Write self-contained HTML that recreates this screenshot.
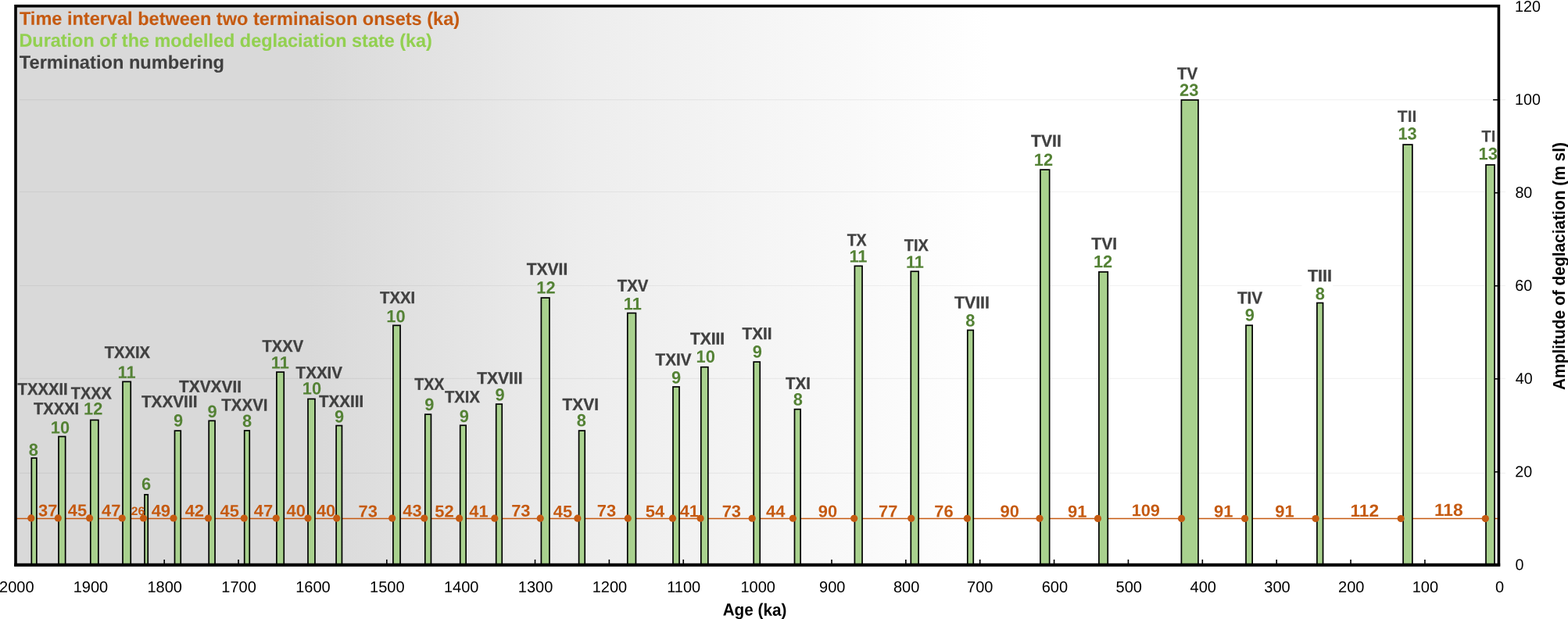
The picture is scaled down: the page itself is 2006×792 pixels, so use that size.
<!DOCTYPE html>
<html lang="en"><head><meta charset="utf-8"><title>Terminations: amplitude of deglaciation vs age</title>
<style>
html,body{margin:0;padding:0;background:#fff;}
body{width:2006px;height:792px;overflow:hidden;}
svg{display:block;}
text{font-family:"Liberation Sans",sans-serif;}
.b{font-weight:bold;}
.nm{fill:#404040;font-size:21.6px;stroke:#404040;stroke-width:0.3px;}
.nu{fill:#548235;font-size:22.1px;font-weight:bold;}
.iv{fill:#c55a11;font-weight:bold;}
.sm{font-size:21px;stroke:none;fill:#484848;}
.ax{fill:#000;font-size:20px;}
.lg{font-weight:bold;font-size:23.8px;stroke-width:0.1px;}
.c1{fill:#c55a11;stroke:#c55a11;}.c2{fill:#92d050;stroke:#92d050;}.c3{fill:#404040;stroke:#404040;}
.ti{font-weight:bold;font-size:22px;fill:#000;}
.bar{fill:#a9d18e;stroke:#000;stroke-width:1.7;}
.dot{fill:#c55a11;}
.tk{stroke:#000;stroke-width:1.6;}
.gl{stroke:#000;stroke-opacity:0.05;stroke-width:1.2;}
</style></head><body>
<svg width="2006" height="792" viewBox="0 0 2006 792">
<defs><linearGradient id="bg" gradientUnits="userSpaceOnUse" x1="20" y1="0" x2="1917.4" y2="0"><stop offset="0.0000" stop-color="#d9d9d9"/><stop offset="0.1966" stop-color="#d9d9d9"/><stop offset="0.3795" stop-color="#ededed"/><stop offset="0.6577" stop-color="#ffffff"/><stop offset="1.0000" stop-color="#ffffff"/></linearGradient></defs>
<rect x="0" y="0" width="2006" height="792" fill="#fff"/>
<rect x="20" y="7.7" width="1897.4" height="715.1" fill="url(#bg)"/>
<line class="gl" x1="25" x2="1926" y1="127.70" y2="127.70"/>
<line class="gl" x1="25" x2="1926" y1="245.50" y2="245.50"/>
<line class="gl" x1="25" x2="1926" y1="365.50" y2="365.50"/>
<line class="gl" x1="25" x2="1926" y1="484.45" y2="484.45"/>
<line class="gl" x1="25" x2="1926" y1="605.40" y2="605.40"/>
<rect x="1665.5" y="363.5" width="39.5" height="4.0" fill="#fff"/>
<line class="tk" x1="1822.90" x2="1822.90" y1="715.9" y2="722"/>
<line class="tk" x1="1728.04" x2="1728.04" y1="715.9" y2="722"/>
<line class="tk" x1="1633.17" x2="1633.17" y1="715.9" y2="722"/>
<line class="tk" x1="1538.31" x2="1538.31" y1="715.9" y2="722"/>
<line class="tk" x1="1443.44" x2="1443.44" y1="715.9" y2="722"/>
<line class="tk" x1="1348.58" x2="1348.58" y1="715.9" y2="722"/>
<line class="tk" x1="1253.71" x2="1253.71" y1="715.9" y2="722"/>
<line class="tk" x1="1158.85" x2="1158.85" y1="715.9" y2="722"/>
<line class="tk" x1="1063.99" x2="1063.99" y1="715.9" y2="722"/>
<line class="tk" x1="969.12" x2="969.12" y1="715.9" y2="722"/>
<line class="tk" x1="874.25" x2="874.25" y1="715.9" y2="722"/>
<line class="tk" x1="779.39" x2="779.39" y1="715.9" y2="722"/>
<line class="tk" x1="684.52" x2="684.52" y1="715.9" y2="722"/>
<line class="tk" x1="589.66" x2="589.66" y1="715.9" y2="722"/>
<line class="tk" x1="494.79" x2="494.79" y1="715.9" y2="722"/>
<line class="tk" x1="399.93" x2="399.93" y1="715.9" y2="722"/>
<line class="tk" x1="305.06" x2="305.06" y1="715.9" y2="722"/>
<line class="tk" x1="210.20" x2="210.20" y1="715.9" y2="722"/>
<line x1="21" x2="1916" y1="663.5" y2="663.5" stroke="#c55a11" stroke-width="1.4"/>
<line class="tk" x1="1910.1" x2="1916" y1="603.78" y2="603.78"/>
<line class="tk" x1="1910.1" x2="1916" y1="484.76" y2="484.76"/>
<line class="tk" x1="1910.1" x2="1916" y1="365.74" y2="365.74"/>
<line class="tk" x1="1910.1" x2="1916" y1="246.72" y2="246.72"/>
<line class="tk" x1="1910.1" x2="1916" y1="127.70" y2="127.70"/>
<rect class="bar" x="40.30" y="586.05" width="6.55" height="136.55"/>
<rect class="bar" x="75.00" y="558.55" width="8.65" height="164.05"/>
<rect class="bar" x="115.80" y="537.45" width="10.05" height="185.15"/>
<rect class="bar" x="157.00" y="488.35" width="10.25" height="234.25"/>
<rect class="bar" x="185.00" y="632.85" width="4.25" height="89.75"/>
<rect class="bar" x="223.50" y="551.15" width="7.75" height="171.45"/>
<rect class="bar" x="267.20" y="538.35" width="7.85" height="184.25"/>
<rect class="bar" x="312.70" y="550.95" width="6.55" height="171.65"/>
<rect class="bar" x="353.90" y="476.05" width="9.35" height="246.55"/>
<rect class="bar" x="394.00" y="510.45" width="8.95" height="212.15"/>
<rect class="bar" x="430.10" y="544.55" width="7.35" height="178.05"/>
<rect class="bar" x="502.90" y="416.35" width="9.15" height="306.25"/>
<rect class="bar" x="543.80" y="530.15" width="7.65" height="192.45"/>
<rect class="bar" x="588.70" y="544.25" width="7.45" height="178.35"/>
<rect class="bar" x="634.70" y="517.05" width="7.55" height="205.55"/>
<rect class="bar" x="692.40" y="381.05" width="10.55" height="341.55"/>
<rect class="bar" x="740.60" y="551.05" width="7.65" height="171.55"/>
<rect class="bar" x="802.80" y="400.55" width="10.65" height="322.05"/>
<rect class="bar" x="861.00" y="494.95" width="8.05" height="227.65"/>
<rect class="bar" x="896.80" y="469.65" width="9.05" height="252.95"/>
<rect class="bar" x="964.20" y="463.05" width="8.05" height="259.55"/>
<rect class="bar" x="1016.50" y="523.65" width="7.65" height="198.95"/>
<rect class="bar" x="1093.40" y="340.35" width="9.65" height="382.25"/>
<rect class="bar" x="1165.30" y="347.25" width="9.85" height="375.35"/>
<rect class="bar" x="1237.80" y="422.45" width="7.45" height="300.15"/>
<rect class="bar" x="1330.90" y="217.15" width="11.75" height="505.45"/>
<rect class="bar" x="1405.90" y="347.95" width="11.35" height="374.65"/>
<rect class="bar" x="1511.40" y="127.95" width="21.55" height="594.65"/>
<rect class="bar" x="1594.00" y="416.25" width="8.15" height="306.35"/>
<rect class="bar" x="1684.90" y="387.55" width="7.65" height="335.05"/>
<rect class="bar" x="1795.10" y="185.05" width="11.75" height="537.55"/>
<rect class="bar" x="1901.00" y="210.95" width="11.05" height="511.65"/>
<rect x="20" y="7.7" width="1897.4" height="715.1" fill="none" stroke="#000" stroke-width="3.6"/>
<line x1="18.2" x2="1919.2" y1="722.8" y2="722.8" stroke="#000" stroke-width="4"/>
<circle class="dot" cx="39.80" cy="662.95" r="4.6"/>
<circle class="dot" cx="74.30" cy="662.96" r="4.6"/>
<circle class="dot" cx="114.60" cy="662.97" r="4.6"/>
<circle class="dot" cx="156.20" cy="662.99" r="4.6"/>
<circle class="dot" cx="183.50" cy="663.00" r="4.6"/>
<circle class="dot" cx="222.00" cy="663.01" r="4.6"/>
<circle class="dot" cx="266.50" cy="663.02" r="4.6"/>
<circle class="dot" cx="312.30" cy="663.04" r="4.6"/>
<circle class="dot" cx="353.30" cy="663.05" r="4.6"/>
<circle class="dot" cx="394.00" cy="663.06" r="4.6"/>
<circle class="dot" cx="430.70" cy="663.08" r="4.6"/>
<circle class="dot" cx="501.70" cy="663.10" r="4.6"/>
<circle class="dot" cx="542.80" cy="663.11" r="4.6"/>
<circle class="dot" cx="587.60" cy="663.13" r="4.6"/>
<circle class="dot" cx="632.80" cy="663.14" r="4.6"/>
<circle class="dot" cx="691.20" cy="663.16" r="4.6"/>
<circle class="dot" cx="738.90" cy="663.18" r="4.6"/>
<circle class="dot" cx="803.30" cy="663.20" r="4.6"/>
<circle class="dot" cx="860.50" cy="663.21" r="4.6"/>
<circle class="dot" cx="896.10" cy="663.23" r="4.6"/>
<circle class="dot" cx="962.20" cy="663.25" r="4.6"/>
<circle class="dot" cx="1014.40" cy="663.26" r="4.6"/>
<circle class="dot" cx="1092.70" cy="663.29" r="4.6"/>
<circle class="dot" cx="1165.70" cy="663.31" r="4.6"/>
<circle class="dot" cx="1237.40" cy="663.34" r="4.6"/>
<circle class="dot" cx="1330.00" cy="663.37" r="4.6"/>
<circle class="dot" cx="1404.50" cy="663.39" r="4.6"/>
<circle class="dot" cx="1511.50" cy="663.42" r="4.6"/>
<circle class="dot" cx="1592.60" cy="663.45" r="4.6"/>
<circle class="dot" cx="1683.10" cy="663.48" r="4.6"/>
<circle class="dot" cx="1792.20" cy="663.52" r="4.6"/>
<circle class="dot" cx="1900.30" cy="663.55" r="4.6"/>
<text class="nu" transform="translate(36.66 582.90) rotate(0.03) scale(0.9900 1)">8</text>
<text class="nm b" transform="translate(22.62 505.05) rotate(0.03) scale(0.9356 1)">TXXXII</text>
<text class="nu" transform="translate(64.72 554.40) rotate(0.03) scale(0.9900 1)">10</text>
<text class="nm b" transform="translate(43.02 530.05) rotate(0.03) scale(0.9326 1)">TXXXI</text>
<text class="nu" transform="translate(107.12 530.40) rotate(0.03) scale(0.9900 1)">12</text>
<text class="nm b" transform="translate(90.72 510.35) rotate(0.03) scale(0.9228 1)">TXXX</text>
<text class="nu" transform="translate(150.62 483.70) rotate(0.03) scale(0.9900 1)">11</text>
<text class="nm b" transform="translate(133.72 457.95) rotate(0.03) scale(0.9352 1)">TXXIX</text>
<text class="nu" transform="translate(181.11 626.70) rotate(0.03) scale(0.9900 1)">6</text>
<text class="nu" transform="translate(221.96 545.40) rotate(0.03) scale(0.9900 1)">9</text>
<text class="nm b" transform="translate(180.91 521.05) rotate(0.03) scale(0.9615 1)">TXXVIII</text>
<text class="nu" transform="translate(265.56 534.00) rotate(0.03) scale(0.9900 1)">9</text>
<text class="nm b" transform="translate(229.01 501.85) rotate(0.03) scale(0.9667 1)">TXVXVII</text>
<text class="nu" transform="translate(310.06 546.00) rotate(0.03) scale(0.9900 1)">8</text>
<text class="nm b" transform="translate(283.32 525.35) rotate(0.03) scale(0.9490 1)">TXXVI</text>
<text class="nu" transform="translate(346.82 471.40) rotate(0.03) scale(0.9900 1)">11</text>
<text class="nm b" transform="translate(335.52 450.05) rotate(0.03) scale(0.9317 1)">TXXV</text>
<text class="nu" transform="translate(386.73 504.50) rotate(0.03) scale(0.9900 1)">10</text>
<text class="nm b" transform="translate(378.61 484.05) rotate(0.03) scale(0.9529 1)">TXXIV</text>
<text class="nu" transform="translate(427.96 540.60) rotate(0.03) scale(0.9900 1)">9</text>
<text class="nm b" transform="translate(408.01 520.75) rotate(0.03) scale(0.9520 1)">TXXIII</text>
<text class="nu" transform="translate(494.23 412.20) rotate(0.03) scale(0.9900 1)">10</text>
<text class="nm b" transform="translate(486.02 387.95) rotate(0.03) scale(0.9395 1)">TXXI</text>
<text class="nu" transform="translate(543.36 525.10) rotate(0.03) scale(0.9900 1)">9</text>
<text class="nm b" transform="translate(530.23 498.85) rotate(0.03) scale(0.9100 1)">TXX</text>
<text class="nu" transform="translate(587.76 540.00) rotate(0.03) scale(0.9900 1)">9</text>
<text class="nm b" transform="translate(569.02 514.95) rotate(0.03) scale(0.9342 1)">TXIX</text>
<text class="nu" transform="translate(633.46 512.50) rotate(0.03) scale(0.9900 1)">9</text>
<text class="nm b" transform="translate(610.21 491.05) rotate(0.03) scale(0.9743 1)">TXVIII</text>
<text class="nu" transform="translate(686.23 375.50) rotate(0.03) scale(0.9900 1)">12</text>
<text class="nm b" transform="translate(673.71 351.45) rotate(0.03) scale(0.9732 1)">TXVII</text>
<text class="nu" transform="translate(737.66 545.30) rotate(0.03) scale(0.9900 1)">8</text>
<text class="nm b" transform="translate(719.61 524.65) rotate(0.03) scale(0.9654 1)">TXVI</text>
<text class="nu" transform="translate(797.72 396.20) rotate(0.03) scale(0.9900 1)">11</text>
<text class="nm b" transform="translate(789.82 372.65) rotate(0.03) scale(0.9417 1)">TXV</text>
<text class="nu" transform="translate(859.06 490.50) rotate(0.03) scale(0.9900 1)">9</text>
<text class="nm b" transform="translate(838.61 467.25) rotate(0.03) scale(0.9555 1)">TXIV</text>
<text class="nu" transform="translate(890.62 463.80) rotate(0.03) scale(0.9900 1)">10</text>
<text class="nm b" transform="translate(883.01 440.45) rotate(0.03) scale(0.9680 1)">TXIII</text>
<text class="nu" transform="translate(962.86 457.60) rotate(0.03) scale(0.9900 1)">9</text>
<text class="nm b" transform="translate(949.51 434.05) rotate(0.03) scale(0.9630 1)">TXII</text>
<text class="nu" transform="translate(1014.66 518.50) rotate(0.03) scale(0.9900 1)">8</text>
<text class="nm b" transform="translate(1004.91 497.65) rotate(0.03) scale(0.9528 1)">TXI</text>
<text class="nu" transform="translate(1086.42 335.60) rotate(0.03) scale(0.9900 1)">11</text>
<text class="nm b" transform="translate(1083.63 314.25) rotate(0.03) scale(0.9067 1)">TX</text>
<text class="nu" transform="translate(1158.92 342.80) rotate(0.03) scale(0.9900 1)">11</text>
<text class="nm b" transform="translate(1156.82 320.95) rotate(0.03) scale(0.9238 1)">TIX</text>
<text class="nu" transform="translate(1235.26 417.50) rotate(0.03) scale(0.9900 1)">8</text>
<text class="nm b" transform="translate(1221.00 394.25) rotate(0.03) scale(0.9863 1)">TVIII</text>
<text class="nu" transform="translate(1322.72 212.10) rotate(0.03) scale(0.9900 1)">12</text>
<text class="nm b" transform="translate(1319.01 187.55) rotate(0.03) scale(0.9788 1)">TVII</text>
<text class="nu" transform="translate(1398.92 342.20) rotate(0.03) scale(0.9900 1)">12</text>
<text class="nm b" transform="translate(1396.31 318.95) rotate(0.03) scale(0.9748 1)">TVI</text>
<text class="nu" transform="translate(1509.07 122.80) rotate(0.03) scale(0.9900 1)">23</text>
<text class="nm b" transform="translate(1506.02 101.35) rotate(0.03) scale(0.9481 1)">TV</text>
<text class="nu" transform="translate(1592.66 410.40) rotate(0.03) scale(0.9900 1)">9</text>
<text class="nm b" transform="translate(1582.91 388.35) rotate(0.03) scale(0.9576 1)">TIV</text>
<text class="nu" transform="translate(1682.66 383.20) rotate(0.03) scale(0.9900 1)">8</text>
<text class="nm b" transform="translate(1672.90 359.95) rotate(0.03) scale(1.0000 1)">TIII</text>
<text class="nu" transform="translate(1788.38 178.60) rotate(0.03) scale(0.9900 1)">13</text>
<text class="nm b sm" transform="translate(1787.80 155.95) rotate(0.03) scale(1.0087 1)">TII</text>
<text class="nu" transform="translate(1891.48 204.20) rotate(0.03) scale(0.9900 1)">13</text>
<text class="nm b sm" transform="translate(1895.31 181.55) rotate(0.03) scale(0.9704 1)">TI</text>
<text class="iv" font-size="21.5" transform="translate(49.01 660.50) rotate(0.03) scale(1.0200 1)">37</text>
<text class="iv" font-size="21.5" transform="translate(86.86 660.20) rotate(0.03) scale(1.0200 1)">45</text>
<text class="iv" font-size="21.5" transform="translate(130.12 660.40) rotate(0.03) scale(1.0200 1)">47</text>
<text class="iv" font-size="15.1" transform="translate(167.66 658.90) rotate(0.03) scale(1.0400 1)">26</text>
<text class="iv" font-size="21.5" transform="translate(193.67 660.70) rotate(0.03) scale(1.0200 1)">49</text>
<text class="iv" font-size="21.5" transform="translate(236.67 660.70) rotate(0.03) scale(1.0200 1)">42</text>
<text class="iv" font-size="21.5" transform="translate(281.56 660.90) rotate(0.03) scale(1.0200 1)">45</text>
<text class="iv" font-size="21.5" transform="translate(324.72 660.70) rotate(0.03) scale(1.0200 1)">47</text>
<text class="iv" font-size="21.5" transform="translate(366.52 660.80) rotate(0.03) scale(1.0200 1)">40</text>
<text class="iv" font-size="21.5" transform="translate(404.92 660.80) rotate(0.03) scale(1.0200 1)">40</text>
<text class="iv" font-size="21.5" transform="translate(458.56 661.60) rotate(0.03) scale(1.0200 1)">73</text>
<text class="iv" font-size="21.5" transform="translate(515.37 660.80) rotate(0.03) scale(1.0200 1)">43</text>
<text class="iv" font-size="21.5" transform="translate(556.31 661.50) rotate(0.03) scale(1.0200 1)">52</text>
<text class="iv" font-size="21.5" transform="translate(600.36 661.60) rotate(0.03) scale(1.0200 1)">41</text>
<text class="iv" font-size="21.5" transform="translate(654.16 660.80) rotate(0.03) scale(1.0200 1)">73</text>
<text class="iv" font-size="21.5" transform="translate(707.76 661.80) rotate(0.03) scale(1.0200 1)">45</text>
<text class="iv" font-size="21.5" transform="translate(763.86 660.80) rotate(0.03) scale(1.0200 1)">73</text>
<text class="iv" font-size="21.5" transform="translate(825.85 661.60) rotate(0.03) scale(1.0200 1)">54</text>
<text class="iv" font-size="21.5" transform="translate(869.66 661.20) rotate(0.03) scale(1.0200 1)">41</text>
<text class="iv" font-size="21.5" transform="translate(923.66 661.50) rotate(0.03) scale(1.0200 1)">73</text>
<text class="iv" font-size="21.5" transform="translate(980.11 661.50) rotate(0.03) scale(1.0200 1)">44</text>
<text class="iv" font-size="21.5" transform="translate(1046.76 661.50) rotate(0.03) scale(1.0200 1)">90</text>
<text class="iv" font-size="21.5" transform="translate(1124.01 661.60) rotate(0.03) scale(1.0200 1)">77</text>
<text class="iv" font-size="21.5" transform="translate(1195.36 661.50) rotate(0.03) scale(1.0200 1)">76</text>
<text class="iv" font-size="21.5" transform="translate(1279.46 661.40) rotate(0.03) scale(1.0200 1)">90</text>
<text class="iv" font-size="21.5" transform="translate(1366.01 661.70) rotate(0.03) scale(1.0200 1)">91</text>
<text class="iv" font-size="21.3" transform="translate(1447.64 660.30) rotate(0.03) scale(1.0200 1)">109</text>
<text class="iv" font-size="21.5" transform="translate(1553.01 661.60) rotate(0.03) scale(1.0200 1)">91</text>
<text class="iv" font-size="21.5" transform="translate(1631.21 661.60) rotate(0.03) scale(1.0200 1)">91</text>
<text class="iv" font-size="22.3" transform="translate(1727.44 660.90) rotate(0.03) scale(1.0200 1)">112</text>
<text class="iv" font-size="22.3" transform="translate(1834.93 660.00) rotate(0.03) scale(1.0200 1)">118</text>
<text class="lg c1" transform="translate(24.90 31.80) rotate(0.03) scale(0.9896 1)">Time interval between two terminaison onsets (ka)</text>
<text class="lg c2" transform="translate(24.42 59.80) rotate(0.03) scale(0.9848 1)">Duration of the modelled deglaciation state (ka)</text>
<text class="lg c3" transform="translate(24.80 87.70) rotate(0.03) scale(0.9935 1)">Termination numbering</text>
<text class="ax" transform="translate(1913.02 757.70) rotate(0.03) scale(1.0000 1)">0</text>
<text class="ax" transform="translate(1806.70 757.70) rotate(0.03) scale(1.0000 1)">100</text>
<text class="ax" transform="translate(1712.09 757.70) rotate(0.03) scale(1.0000 1)">200</text>
<text class="ax" transform="translate(1617.27 757.70) rotate(0.03) scale(1.0000 1)">300</text>
<text class="ax" transform="translate(1522.61 757.70) rotate(0.03) scale(1.0000 1)">400</text>
<text class="ax" transform="translate(1427.54 757.70) rotate(0.03) scale(1.0000 1)">500</text>
<text class="ax" transform="translate(1332.63 757.70) rotate(0.03) scale(1.0000 1)">600</text>
<text class="ax" transform="translate(1237.01 757.70) rotate(0.03) scale(1.0000 1)">700</text>
<text class="ax" transform="translate(1142.95 757.70) rotate(0.03) scale(1.0000 1)">800</text>
<text class="ax" transform="translate(1048.04 757.70) rotate(0.03) scale(1.0000 1)">900</text>
<text class="ax" transform="translate(947.42 757.70) rotate(0.03) scale(1.0000 1)">1000</text>
<text class="ax" transform="translate(853.15 757.70) rotate(0.03) scale(1.0000 1)">1100</text>
<text class="ax" transform="translate(757.69 757.70) rotate(0.03) scale(1.0000 1)">1200</text>
<text class="ax" transform="translate(662.82 757.70) rotate(0.03) scale(1.0000 1)">1300</text>
<text class="ax" transform="translate(567.96 757.70) rotate(0.03) scale(1.0000 1)">1400</text>
<text class="ax" transform="translate(473.09 757.70) rotate(0.03) scale(1.0000 1)">1500</text>
<text class="ax" transform="translate(378.23 757.70) rotate(0.03) scale(1.0000 1)">1600</text>
<text class="ax" transform="translate(283.36 757.70) rotate(0.03) scale(1.0000 1)">1700</text>
<text class="ax" transform="translate(188.50 757.70) rotate(0.03) scale(1.0000 1)">1800</text>
<text class="ax" transform="translate(93.63 757.70) rotate(0.03) scale(1.0000 1)">1900</text>
<text class="ax" transform="translate(-0.98 757.70) rotate(0.03) scale(1.0000 1)">2000</text>
<text class="ax" transform="translate(1938.51 729.15) rotate(0.03) scale(0.9850 1)">0</text>
<text class="ax" transform="translate(1938.32 610.13) rotate(0.03) scale(0.9850 1)">20</text>
<text class="ax" transform="translate(1938.81 491.11) rotate(0.03) scale(0.9850 1)">40</text>
<text class="ax" transform="translate(1938.32 372.09) rotate(0.03) scale(0.9850 1)">60</text>
<text class="ax" transform="translate(1938.41 253.07) rotate(0.03) scale(0.9850 1)">80</text>
<text class="ax" transform="translate(1938.12 134.05) rotate(0.03) scale(0.9850 1)">100</text>
<text class="ax" transform="translate(1938.12 15.03) rotate(0.03) scale(0.9850 1)">120</text>
<text class="ti" transform="translate(924.64 787.60) rotate(0.03) scale(0.9412 1)">Age (ka)</text>
<text class="ti" transform="translate(2002 499) rotate(-90)" textLength="317" lengthAdjust="spacingAndGlyphs">Amplitude of deglaciation (m sl)</text>
</svg></body></html>
